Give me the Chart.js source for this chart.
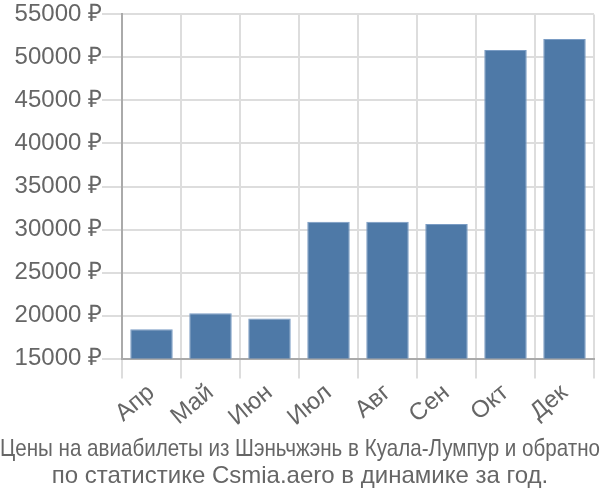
<!DOCTYPE html>
<html>
<head>
<meta charset="utf-8">
<script src="https://cdn.jsdelivr.net/npm/chart.js@4/dist/chart.umd.min.js"></script>
<style>
html,body{margin:0;padding:0;background:#fff;}
#wrap{width:600px;height:500px;position:relative;}
</style>
</head>
<body>
<div id="wrap"><canvas id="c"></canvas></div>
<script>
const categories = ["Апр","Май","Июн","Июл","Авг","Сен","Окт","Дек"];
const prices = [18420, 20280, 19650, 30900, 30900, 30630, 50860, 52140];
const yMin = 15000;
const yMax = 55000;
const yStep = 5000;
const titleLines = ["Цены на авиабилеты из Шэньчжэнь в Куала-Лумпур и обратно","по статистике Csmia.aero в динамике за год."];

new Chart(document.getElementById('c'), {
  type: 'bar',
  data: {
    labels: categories,
    datasets: [{
      data: prices,
      backgroundColor: '#4e79a7',
      borderColor: '#7a9cc4',
      borderWidth: 1,
      barPercentage: 0.9,
      categoryPercentage: 0.8
    }]
  },
  options: {
    responsive: true,
    maintainAspectRatio: false,
    animation: false,
    layout: { padding: { left: 0, right: 0, top: 4, bottom: 0 } },
    plugins: {
      legend: { display: false },
      tooltip: { enabled: false },
      title: {
        display: true,
        position: 'bottom',
        text: titleLines,
        color: '#666',
        font: { family: 'Liberation Sans, Arial, sans-serif', size: 24, weight: 'normal', lineHeight: 1.125 },
        padding: { top: 4, bottom: 10 }
      }
    },
    scales: {
      x: {
        grid: { color: '#dddddd', lineWidth: 2, tickLength: 20, offset: true },
        border: { color: '#aaaaaa', width: 2 },
        ticks: {
          color: '#666',
          font: { family: 'Liberation Sans, Arial, sans-serif', size: 24 },
          minRotation: 40, maxRotation: 40, padding: 0
        }
      },
      y: {
        min: yMin, max: yMax,
        afterFit: s => { s.width = 122; },
        grid: { color: '#dddddd', lineWidth: 2, tickLength: 20 },
        border: { color: '#aaaaaa', width: 2 },
        ticks: {
          stepSize: yStep,
          color: '#666',
          padding: 0,
          font: { family: 'Liberation Sans, Arial, sans-serif', size: 24 },
          callback: v => v + ' ₽'
        }
      },
      yRight: {
        position: 'right',
        display: true,
        afterFit: s => { s.width = 6; },
        grid: { display: false },
        border: { display: false },
        ticks: { display: false }
      }
    }
  }
});
</script>
</body>
</html>
